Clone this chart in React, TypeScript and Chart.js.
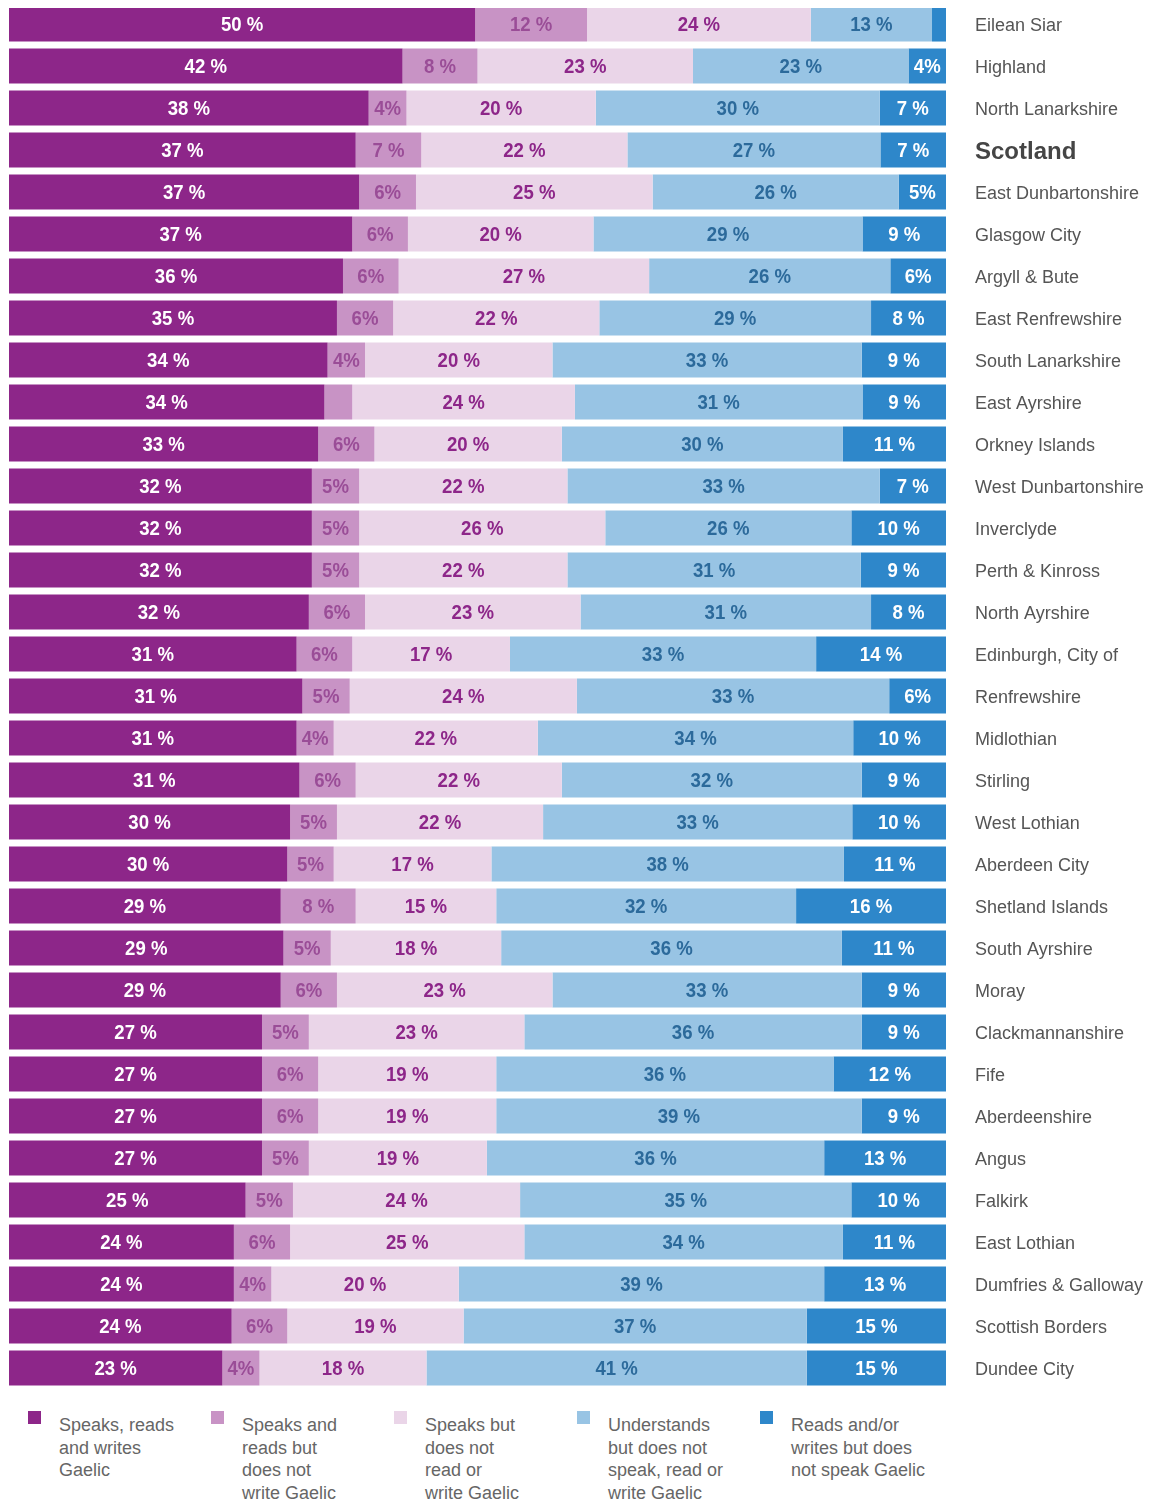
import React, { useEffect, useRef } from "react";
import { Chart, registerables } from "chart.js";

Chart.register(...registerables);

const areas = [
  "Eilean Siar", "Highland", "North Lanarkshire", "Scotland", "East Dunbartonshire",
  "Glasgow City", "Argyll & Bute", "East Renfrewshire", "South Lanarkshire", "East Ayrshire",
  "Orkney Islands", "West Dunbartonshire", "Inverclyde", "Perth & Kinross", "North Ayrshire",
  "Edinburgh, City of", "Renfrewshire", "Midlothian", "Stirling", "West Lothian",
  "Aberdeen City", "Shetland Islands", "South Ayrshire", "Moray", "Clackmannanshire",
  "Fife", "Aberdeenshire", "Angus", "Falkirk", "East Lothian",
  "Dumfries & Galloway", "Scottish Borders", "Dundee City",
];

const speaksReadsWrites = [50, 42, 38, 37, 37, 37, 36, 35, 34, 34, 33, 32, 32, 32, 32, 31, 31, 31, 31, 30, 30, 29, 29, 29, 27, 27, 27, 27, 25, 24, 24, 24, 23];
const speaksReadsNotWrite = [12, 8, 4, 7, 6, 6, 6, 6, 4, 3, 6, 5, 5, 5, 6, 6, 5, 4, 6, 5, 5, 8, 5, 6, 5, 6, 6, 5, 5, 6, 4, 6, 4];
const speaksOnly = [24, 23, 20, 22, 25, 20, 27, 22, 20, 24, 20, 22, 26, 22, 23, 17, 24, 22, 22, 22, 17, 15, 18, 23, 23, 19, 19, 19, 24, 25, 20, 19, 18];
const understandsOnly = [13, 23, 30, 27, 26, 29, 26, 29, 33, 31, 30, 33, 26, 31, 31, 33, 33, 34, 32, 33, 38, 32, 36, 33, 36, 36, 39, 36, 35, 34, 39, 37, 41];
const readsWritesNotSpeak = [1.5, 4, 7, 7, 5, 9, 6, 8, 9, 9, 11, 7, 10, 9, 8, 14, 6, 10, 9, 10, 11, 16, 11, 9, 9, 12, 9, 13, 10, 11, 13, 15, 15];

const seriesValues = [speaksReadsWrites, speaksReadsNotWrite, speaksOnly, understandsOnly, readsWritesNotSpeak];

const legendLines = [
  ["Speaks, reads", "and writes", "Gaelic"],
  ["Speaks and", "reads but", "does not", "write Gaelic"],
  ["Speaks but", "does not", "read or", "write Gaelic"],
  ["Understands", "but does not", "speak, read or", "write Gaelic"],
  ["Reads and/or", "writes but does", "not speak Gaelic"],
];

const seriesColors = ["#8d2689", "#c893c5", "#ead5e8", "#98c4e4", "#2e87ca"];
const labelColors = ["#ffffff", "#9a4d97", "#8d2689", "#2c6a9b", "#ffffff"];

const FONT = "'Liberation Sans', Arial, Helvetica, sans-serif";

const rowTotals = areas.map((_, i) => seriesValues.reduce((s, arr) => s + arr[i], 0));

const segmentLabels = {
  id: "segmentLabels",
  afterDatasetsDraw(chart: any) {
    const ctx = chart.ctx;
    chart.data.datasets.forEach((_: any, di: number) => {
      const meta = chart.getDatasetMeta(di);
      meta.data.forEach((el: any, i: number) => {
        const v = seriesValues[di][i];
        if (v < 3.5) return;
        const p = el.getProps(["x", "base", "y"], true);
        const txt = v >= 7 ? `${v} %` : `${v}%`;
        ctx.save();
        ctx.font = `bold 20px ${FONT}`;
        ctx.textAlign = "center";
        ctx.textBaseline = "middle";
        ctx.fillStyle = labelColors[di];
        ctx.translate((p.x + p.base) / 2, p.y + 1);
        ctx.scale(0.93, 1);
        ctx.fillText(txt, 0, 0);
        ctx.restore();
      });
    });
  },
};

export default function App() {
  const ref = useRef<HTMLCanvasElement | null>(null);

  useEffect(() => {
    if (!ref.current) return;
    Chart.defaults.font.family = FONT;
    const chart = new Chart(ref.current, {
      type: "bar",
      data: {
        labels: areas,
        datasets: seriesValues.map((vals, di) => ({
          label: legendLines[di].join(" "),
          data: vals.map((v, i) => (v / rowTotals[i]) * 100),
          backgroundColor: seriesColors[di],
          borderWidth: 0,
          barPercentage: 0.835,
          categoryPercentage: 1,
        })),
      },
      options: {
        indexAxis: "y",
        animation: false,
        responsive: false,
        maintainAspectRatio: false,
        layout: { padding: { left: 1, right: 0, top: 0, bottom: 0 } },
        plugins: {
          legend: { display: false },
          tooltip: { enabled: false },
        },
        scales: {
          x: { stacked: true, min: 0, max: 100, display: false },
          y: {
            stacked: true,
            position: "right",
            grid: { display: false, drawTicks: false },
            border: { display: false },
            afterFit: (scale: any) => {
              scale.width = 208;
              scale.paddingTop = 0;
              scale.paddingBottom = 0;
            },
            ticks: {
              padding: 29,
              labelOffset: 2,
              autoSkip: false,
              font: (c: any) =>
                areas[c.index] === "Scotland"
                  ? { size: 24, weight: "bold", family: FONT }
                  : { size: 18, weight: "normal", family: FONT },
              color: (c: any) => (areas[c.index] === "Scotland" ? "#454545" : "#555555"),
            },
          },
        },
      } as any,
      plugins: [segmentLabels],
    });
    return () => chart.destroy();
  }, []);

  return (
    <div style={{ marginTop: -5, width: 1146, fontFamily: FONT }}>
      <canvas ref={ref} width={1146} height={1386} style={{ display: "block", width: 1146, height: 1386 }} />
      <div style={{ position: "relative", height: 110 }}>
        {legendLines.map((lines, i) => (
          <div key={i} style={{ position: "absolute", left: 20 + i * 183, top: 0 }}>
            <div
              style={{
                position: "absolute",
                left: 0,
                top: 22,
                width: 13,
                height: 13,
                background: seriesColors[i],
              }}
            />
            <div
              style={{
                position: "absolute",
                left: 31,
                top: 25,
                width: 170,
                fontSize: 18,
                lineHeight: "22.5px",
                color: "#666666",
                whiteSpace: "nowrap",
              }}
            >
              {lines.map((l, k) => (
                <div key={k}>{l}</div>
              ))}
            </div>
          </div>
        ))}
      </div>
    </div>
  );
}
